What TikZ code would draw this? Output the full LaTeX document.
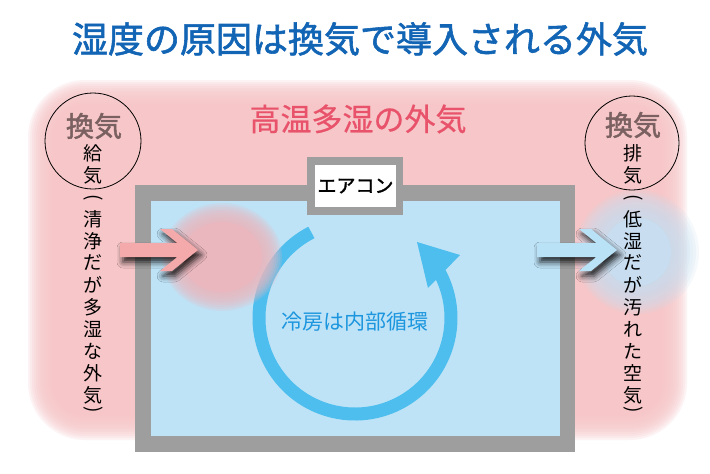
\documentclass[tikz,border=0pt]{standalone}
\usepackage{fontspec}
\setmainfont{Noto Sans CJK JP}
\newfontfamily\jpb{Noto Sans CJK JP}[FakeBold=1.6]
\newfontfamily\jpm{Noto Sans CJK JP}[FakeBold=0.6]
\usetikzlibrary{shadows.blur}
\definecolor{titleblue}{RGB}{18,100,180}
\definecolor{bgpink}{RGB}{247,198,200}
\definecolor{hotred}{RGB}{232,82,106}
\definecolor{wallgray}{RGB}{158,158,158}
\definecolor{roomblue}{RGB}{190,227,247}
\definecolor{arcblue}{RGB}{77,190,238}
\definecolor{textblue}{RGB}{28,150,222}
\definecolor{blobpink}{RGB}{234,183,190}
\definecolor{arrowpink}{RGB}{244,170,170}
\definecolor{arrowblue}{RGB}{186,226,246}
\definecolor{blobblue}{RGB}{200,222,240}
\definecolor{kanki}{RGB}{122,96,96}
\begin{document}
\begin{tikzpicture}[x=1pt,y=-1pt,
  vchar/.style={font=\fontsize{19}{22}\selectfont, text=black, inner sep=0pt},
  vparen/.style={font=\fontsize{19}{22}\selectfont, text=black, inner sep=0pt, rotate=-90},
  kankitext/.style={font=\jpb\fontsize{28}{32}\selectfont, text=kanki, inner sep=0pt},
  ring/.style={draw=black, circle, line width=0.8pt, inner sep=0pt},
  arrowshadow/.style={blur shadow={shadow xshift=3pt, shadow yshift=-5pt, shadow blur radius=6pt, shadow opacity=85}}]
\useasboundingbox (0,0) rectangle (710,474);
\fill[white] (0,0) rectangle (710,474);
% soft pink outside air
\fill[bgpink, rounded corners=33pt] (52,104) rectangle (663,416);
\foreach \e [evaluate=\e as \r using 45+\e] in {-10,-8,...,12}
  \fill[bgpink, fill opacity=0.2, rounded corners=\r pt] (40-\e,92-\e) rectangle (675+\e,428+\e);
% blue blob (outgoing air)
\fill[blobblue] (637,252) circle[radius=34pt];
\foreach \e in {-12,-9,...,15}
  \fill[blobblue, fill opacity=0.18] (637,252) circle[radius={(47+\e)*1pt}];
% room
\fill[wallgray] (135,185) rectangle (575,452);
\fill[roomblue] (151,201) rectangle (560,436);
% air conditioner
\node[fill=wallgray, minimum width=96pt, minimum height=58pt, inner sep=0pt] (acbox) at (355,186) {};
\node[fill=white, minimum width=81pt, minimum height=42pt, inner sep=0pt, font=\jpb\fontsize{19}{22}\selectfont] (ac) at (355.5,186) {エアコン};
% circulation arrow
\draw[arcblue, line width=13pt] (355,318) ++(-117:96) arc[start angle=-117, end angle=-388, radius=96];
\fill[arcblue] (417,242) -- (460,255) -- (428,288) -- cycle;
\node[font=\fontsize{21}{24}\selectfont, text=textblue] (circ) at (355,322) {冷房は内部循環};
% pink blob (incoming humid air)
\fill[blobpink] (222,257) ellipse[x radius=40pt, y radius=35pt];
\foreach \e in {-10,-8,...,10}
  \fill[blobpink, fill opacity=0.2] (222,257) ellipse[x radius={(50+\e)*1pt}, y radius={(44+\e)*1pt}];
% arrows
\fill[arrowpink, arrowshadow] (120,243) -- (177.3,243) -- (160,229) -- (172,229) -- (198,250) -- (172,271) -- (160,271) -- (177.3,257) -- (120,257) -- cycle;
\fill[arrowblue, arrowshadow] (537,243) -- (596.3,243) -- (579,229) -- (591,229) -- (617,250) -- (591,271) -- (579,271) -- (596.3,257) -- (537,257) -- cycle;
% title and outside label
\node[font=\jpb\fontsize{36}{40}\selectfont, text=titleblue] (title) at (360,39) {湿度の原因は換気で導入される外気};
\node[font=\jpm\fontsize{31}{36}\selectfont, text=hotred] (outside) at (358,119) {高温多湿の外気};
% ventilation circles
\node[ring, minimum size=96pt] (lring) at (93,141) {};
\node[ring, minimum size=94pt] (rring) at (632,143) {};
\node[kankitext] (lk) at (94,126) {換気};
\node[kankitext] (rk) at (633,125) {換気};
\node[vchar] (L0) at (93,153) {給};
\node[vchar] (L1) at (93,175) {気};
\node[vparen] (Lopen) at (93,198) {(};
\foreach \c [count=\i from 3] in {清,浄,だ,が,多,湿,な,外,気}
  \node[vchar] (L\i) at (93,153+22*\i) {\c};
\node[vparen] (Lclose) at (93,410) {)};
\node[vchar] (R0) at (633,153) {排};
\node[vchar] (R1) at (633,175) {気};
\node[vparen] (Ropen) at (633,198) {(};
\foreach \c [count=\i from 3] in {低,湿,だ,が,汚,れ,た,空,気}
  \node[vchar] (R\i) at (633,153+22*\i) {\c};
\node[vparen] (Rclose) at (633,410) {)};
\end{tikzpicture}
\end{document}
